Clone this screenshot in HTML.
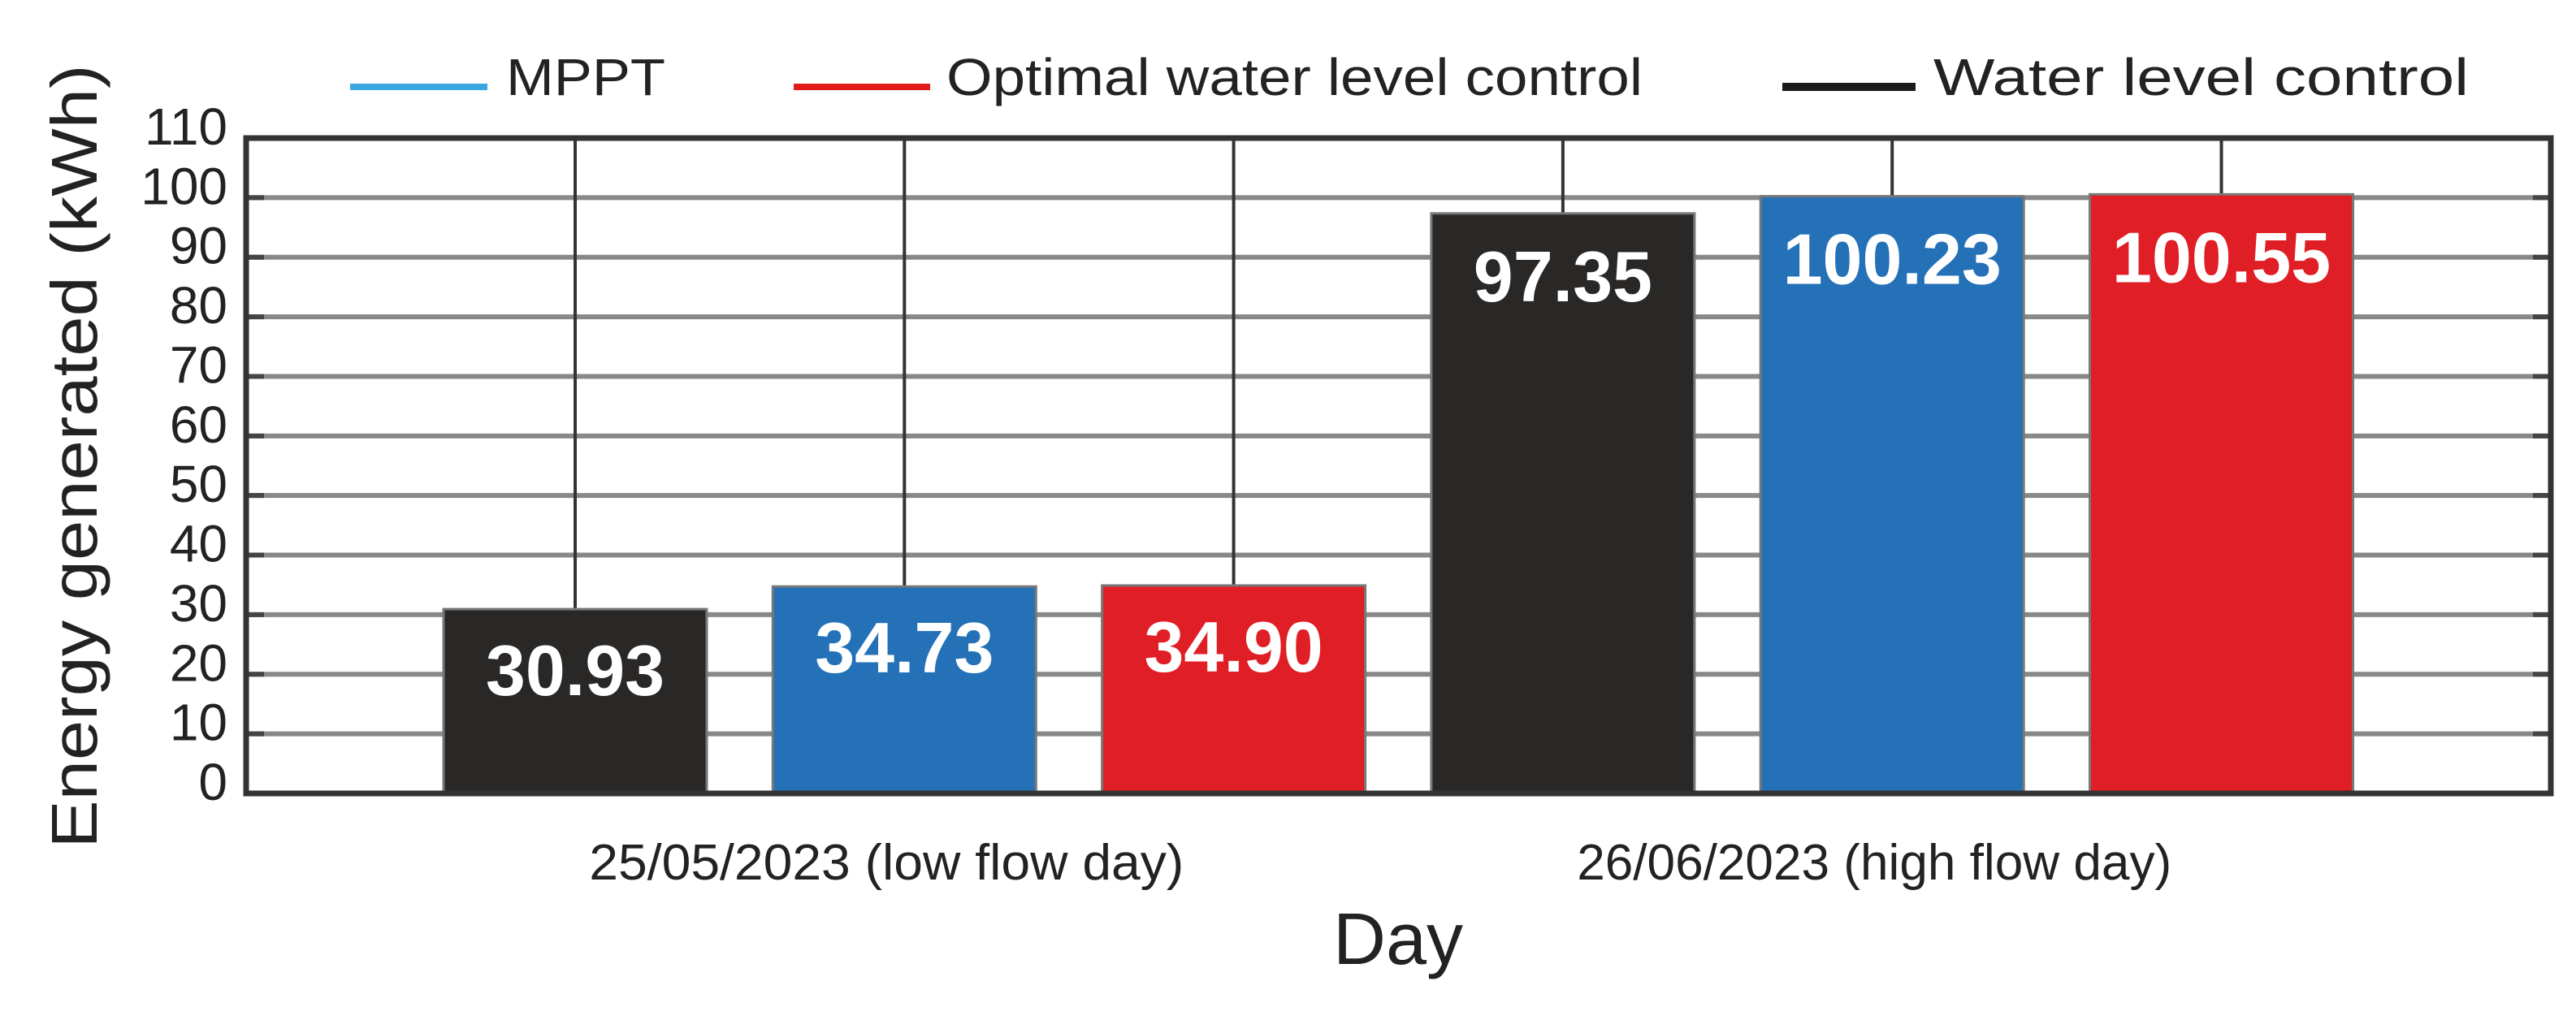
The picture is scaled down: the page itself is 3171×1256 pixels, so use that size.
<!DOCTYPE html>
<html><head><meta charset="utf-8"><style>
html,body{margin:0;padding:0;background:#fff;}
svg{display:block;font-family:"Liberation Sans",Arial,sans-serif;}
</style></head><body>
<svg id="chart" width="3171" height="1256" viewBox="0 0 3171 1256">
<g id="grid"></g>
<g id="bars"></g>
<g id="labels"></g>
<g id="yticks"></g>
<g id="xcats"></g>
<rect x="303" y="170" width="2837" height="807" fill="none" stroke="#333" stroke-width="7"/>
<text x="91" y="562" font-size="80" fill="#222" text-anchor="middle" textLength="965" lengthAdjust="spacingAndGlyphs" transform="rotate(-90 91 562) translate(0 28)">Energy generated (kWh)</text>
<text x="1721" y="1187" font-size="90" fill="#222" text-anchor="middle">Day</text>
<g>
<g>
<line x1="431" y1="107" x2="600" y2="107" stroke="#3aa6e0" stroke-width="8"/>
<text x="623" y="117" font-size="64" fill="#222" textLength="196" lengthAdjust="spacingAndGlyphs">MPPT</text></g>
<g>
<line x1="977" y1="107" x2="1145" y2="107" stroke="#e01b1b" stroke-width="8"/>
<text x="1165" y="117" font-size="64" fill="#222" textLength="857" lengthAdjust="spacingAndGlyphs">Optimal water level control</text></g>
<g>
<line x1="2194" y1="107" x2="2358" y2="107" stroke="#1a1a1a" stroke-width="10"/>
<text x="2380" y="117" font-size="64" fill="#222" textLength="659" lengthAdjust="spacingAndGlyphs">Water level control</text></g>
</g>
</svg>
<script>
const categories = ["25/05/2023 (low flow day)", "26/06/2023 (high flow day)"];
const seriesNames = ["Water level control", "MPPT", "Optimal water level control"];
const waterLevel = [30.93, 97.35];
const mppt = [34.73, 100.23];
const optimal = [34.90, 100.55];
const valueText = [["30.93","34.73","34.90"],["97.35","100.23","100.55"]];
const yTicks = [0,10,20,30,40,50,60,70,80,90,100,110];

const NS = "http://www.w3.org/2000/svg";
const L = 303, R = 3140, T = 170, B = 977, yMax = 110;
const y = v => B - (v / yMax) * (B - T);
const slot = 405.3, barW = 324, firstX = 546;
const x = (ci, si) => firstX + (ci * 3 + si) * slot;
const colors = ["#2a2826", "#2471b8", "#e01e25"];
const series = [waterLevel, mppt, optimal];
function mk(tag, attrs, parent){const e=document.createElementNS(NS,tag);for(const k in attrs)e.setAttribute(k,attrs[k]);parent.appendChild(e);return e;}

const grid = document.getElementById('grid');
yTicks.forEach(t => {
  if (t === 0 || t === 110) return;
  const gl = mk('line',{x1:L,x2:R,y1:y(t),y2:y(t),stroke:'#888','stroke-width':6},grid);
  
  
  mk('line',{x1:L,x2:L+22,y1:y(t),y2:y(t),stroke:'#444','stroke-width':6},grid);
  mk('line',{x1:R-22,x2:R,y1:y(t),y2:y(t),stroke:'#444','stroke-width':6},grid);
});
categories.forEach((c, ci) => {
  series.forEach((s, si) => {
    const cx = x(ci, si) + barW / 2;
    const vl = mk('line',{x1:cx,x2:cx,y1:T,y2:y(s[ci]),stroke:'#333','stroke-width':4},grid);
    
    
  });
});

const bars = document.getElementById('bars');
const labels = document.getElementById('labels');
categories.forEach((c, ci) => {
  series.forEach((s, si) => {
    const b = mk('rect',{x:x(ci,si),y:y(s[ci]),width:barW,height:B-y(s[ci]),fill:colors[si],stroke:'#777','stroke-width':3},bars);
    
    
    const top = y(s[ci]);
    const base = ci === 0 ? top + 106 : top + 108;
    const tx = mk('text',{x:x(ci,si)+barW/2,y:base,'font-size':88,'font-weight':'bold',fill:'#fff','text-anchor':'middle'},labels);
    tx.textContent = valueText[ci][si];
    
    
  });
});

const yt = document.getElementById('yticks');
yTicks.forEach(t => {
  const e = mk('text',{x:280,y:y(t)+8,'font-size':64,fill:'#222','text-anchor':'end'},yt);
  e.textContent = t;
  
  
});

const xc = document.getElementById('xcats');
categories.forEach((c, ci) => {
  const e = mk('text',{x:x(ci,1)+barW/2 - 22,y:1083,'font-size':62,fill:'#222','text-anchor':'middle',textLength:732,lengthAdjust:'spacingAndGlyphs'},xc);
  e.textContent = c;
  
  
});
</script>
</body></html>
